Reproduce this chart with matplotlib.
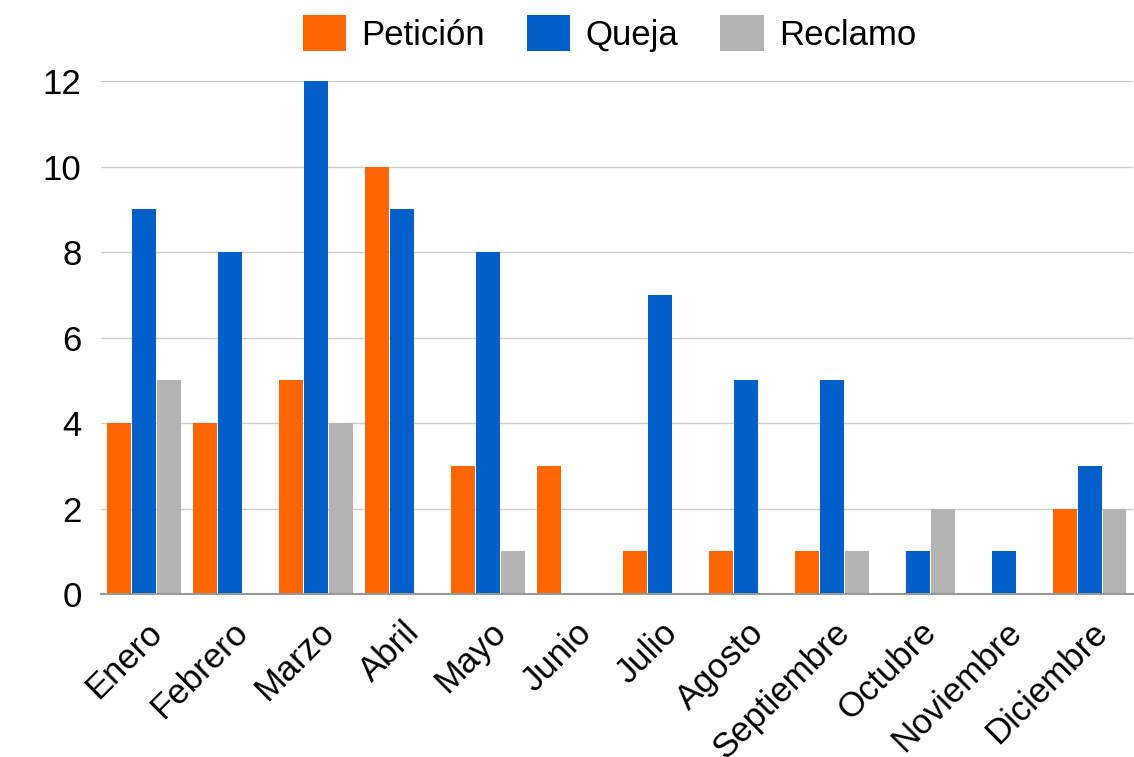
import matplotlib
matplotlib.use("Agg")
import matplotlib.pyplot as plt
import matplotlib.transforms as mtransforms
import numpy as np

months = ["Enero", "Febrero", "Marzo", "Abril", "Mayo", "Junio", "Julio",
          "Agosto", "Septiembre", "Octubre", "Noviembre", "Diciembre"]
peticion = [4, 4, 5, 10, 3, 3, 1, 1, 1, 0, 0, 2]
queja = [9, 8, 12, 9, 8, 0, 7, 5, 5, 1, 1, 3]
reclamo = [5, 0, 4, 0, 1, 0, 0, 0, 1, 2, 0, 2]
series_names = ["Petición", "Queja", "Reclamo"]
colors = ["#ff6600", "#005fc8", "#b3b3b3"]
yticks = [0, 2, 4, 6, 8, 10, 12]

plt.rcParams['font.family'] = ['Liberation Sans', 'DejaVu Sans']

fig = plt.figure(figsize=(11.34, 7.57), dpi=100)
ax = fig.add_axes([0.0891, 0.2153, 0.9096, 0.6777])

x = np.arange(len(months))
w = 0.29
for i, (vals, name, c) in enumerate(zip([peticion, queja, reclamo], series_names, colors)):
    ax.bar(x + (i - 1) * w, vals, width=w * 0.96, color=c, label=name, zorder=3)

ax.set_xlim(-0.5, len(months) - 0.5)
ax.set_ylim(0, 12)
ax.set_yticks(yticks)
ax.set_yticklabels([str(v) for v in yticks], fontsize=25)
ax.set_xticks(x)
ax.set_xticklabels(months, fontsize=25, rotation=45, ha='right', va='center',
                   rotation_mode='anchor')
ax.tick_params(axis='x', length=0, pad=24)
ax.tick_params(axis='y', length=0, pad=14)
offset = mtransforms.ScaledTranslation(13 / 100, 0, fig.dpi_scale_trans)
for lab in ax.get_xticklabels():
    lab.set_transform(lab.get_transform() + offset)
ax.grid(axis='y', color='#cccccc', linewidth=1, zorder=0)
for s in ['top', 'right', 'left']:
    ax.spines[s].set_visible(False)
ax.spines['bottom'].set_color('#999999')
ax.spines['bottom'].set_linewidth(1.5)
ax.spines['bottom'].set_zorder(4)

leg = fig.legend(loc='center', bbox_to_anchor=(0.5375, 0.9557), bbox_transform=fig.transFigure,
                 ncol=3, frameon=False, fontsize=25, handlelength=1.25, handleheight=1.2,
                 columnspacing=1.2, handletextpad=0.45)

fig.savefig("out.png", dpi=100)
